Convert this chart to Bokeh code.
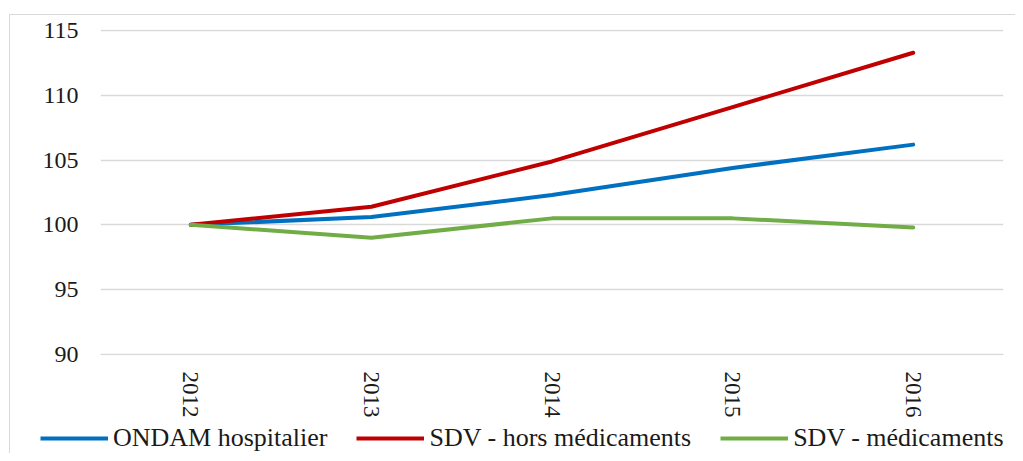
from bokeh.plotting import figure
from bokeh.layouts import column
from bokeh.models import Range1d, FactorRange, Legend, LegendItem, FixedTicker
from bokeh.embed import file_html
from bokeh.resources import INLINE

years = ["2012", "2013", "2014", "2015", "2016"]
ondam = [100.0, 100.6, 102.3, 104.4, 106.2]
sdv_hors = [100.0, 101.4, 104.9, 109.1, 113.3]
sdv_med = [100.0, 99.0, 100.5, 100.5, 99.8]
series_names = ["ONDAM hospitalier", "SDV - hors médicaments", "SDV - médicaments"]
colors = ["#0070C0", "#C00000", "#70AD47"]
y_ticks = [90, 95, 100, 105, 110, 115]

FONT = "Liberation Serif"
GRID = "#d9d9d9"
TXT = "#1a1a1a"

p = figure(width=1015, height=420,
           x_range=FactorRange(*years), y_range=Range1d(89.9, 115.1),
           output_backend="svg", toolbar_location=None,
           min_border_left=100, min_border_right=12,
           min_border_top=29, min_border_bottom=63)
p.frame_align = False
p.outline_line_color = None
p.background_fill_color = "white"
p.border_fill_alpha = 0

for vals, col in zip([ondam, sdv_hors, sdv_med], colors):
    p.line(years, vals, line_color=col, line_width=4,
           line_cap="round", line_join="round")

p.xgrid.grid_line_color = None
p.ygrid.grid_line_color = GRID
p.ygrid.grid_line_width = 1.5
p.yaxis.ticker = FixedTicker(ticks=y_ticks)

p.yaxis.axis_line_color = None
p.yaxis.major_tick_line_color = None
p.yaxis.minor_tick_line_color = None
p.yaxis.major_tick_out = 0
p.yaxis.major_label_standoff = 22
p.yaxis.major_label_text_font = FONT
p.yaxis.major_label_text_font_size = "24px"
p.yaxis.major_label_text_color = TXT

p.xaxis.axis_line_color = None
p.xaxis.major_tick_line_color = None
p.xaxis.minor_tick_line_color = None
p.xaxis.major_tick_out = 0
p.xaxis.major_label_standoff = 16
p.xaxis.major_label_orientation = "vertical"
p.xaxis.major_label_text_font = FONT
p.xaxis.major_label_text_font_size = "23px"
p.xaxis.major_label_text_color = TXT

# legend strip (series drawn again but outside its visible range; only the legend shows)
p2 = figure(width=1015, height=33, x_range=FactorRange(*years), y_range=Range1d(0, 1),
            output_backend="svg", toolbar_location=None,
            x_axis_type=None, y_axis_type=None,
            min_border=0, min_border_left=0, min_border_right=0,
            min_border_top=0, min_border_bottom=0)
p2.frame_align = False
p2.outline_line_color = None
p2.background_fill_alpha = 0
p2.border_fill_alpha = 0
p2.xgrid.grid_line_color = None
p2.ygrid.grid_line_color = None

items = []
for name, vals, col in zip(series_names, [ondam, sdv_hors, sdv_med], colors):
    r = p2.line(years, vals, line_color=col, line_width=4)
    items.append(LegendItem(label=name, renderers=[r]))

legend = Legend(items=items, orientation="horizontal", location=(40, 0),
                margin=0, padding=0, spacing=29, glyph_width=68, glyph_height=26,
                label_height=26, label_standoff=5,
                label_text_font=FONT, label_text_font_size="26px",
                label_text_color=TXT, background_fill_alpha=0,
                border_line_color=None)
p2.add_layout(legend, "center")

layout = column(p, p2, spacing=0)
layout.styles = {
    "background": ("linear-gradient(%s,%s) 9px 14px / 1px 100%% no-repeat, "
                   "linear-gradient(%s,%s) 9px 14px / 100%% 1px no-repeat, white")
                  % (GRID, GRID, GRID, GRID)
}

open("out.html", "w").write(file_html(layout, INLINE))
